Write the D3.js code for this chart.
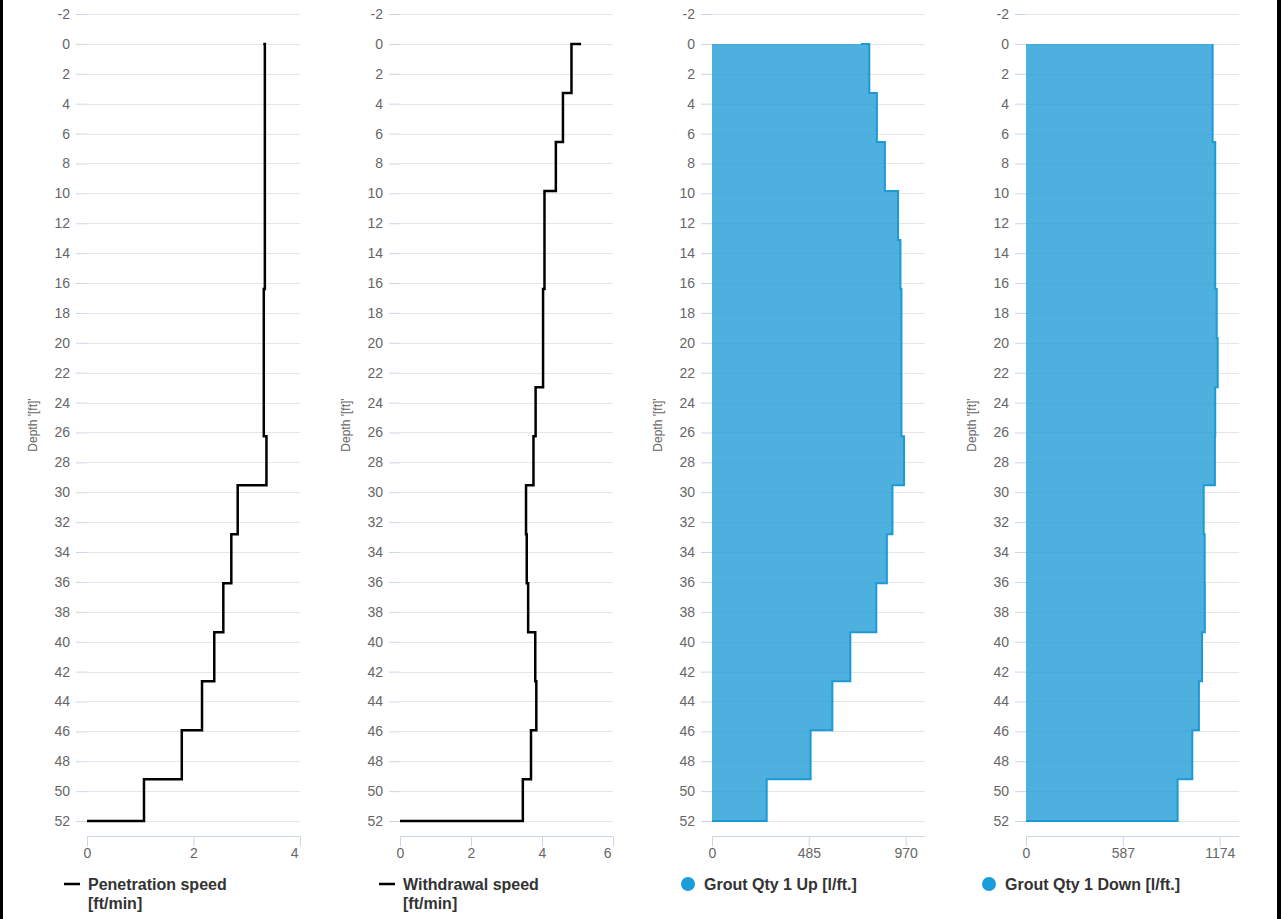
<!DOCTYPE html>
<html>
<head>
<meta charset="utf-8">
<script src="https://cdn.jsdelivr.net/npm/d3@7"></script>
<style>
  html, body { margin: 0; padding: 0; background: #000; }
  #wrap { position: absolute; left: 3px; top: 0; width: 1274px; height: 919px; background: #fff; }
  svg { position: absolute; left: -3px; top: 0; }
  text { font-family: "Liberation Sans", Arial, sans-serif; }
</style>
</head>
<body>
<div id="wrap"></div>
<script>
// ---- data ----
const depths = [0, 0, 3.28, 6.56, 9.84, 13.12, 16.40, 19.69, 22.97, 26.25, 29.53, 32.81, 36.09, 39.37, 42.65, 45.93, 49.21, 52];
const penetrationSpeed = [3.31, 3.34, 3.34, 3.34, 3.34, 3.34, 3.32, 3.32, 3.32, 3.37, 2.83, 2.71, 2.56, 2.39, 2.16, 1.78, 1.07, 0];
const withdrawalSpeed = [5.1, 4.83, 4.59, 4.39, 4.07, 4.07, 4.03, 4.03, 3.82, 3.76, 3.55, 3.57, 3.61, 3.81, 3.84, 3.69, 3.46, 0];
const groutUp = [746, 788, 826, 866, 932, 944, 949, 949, 949, 962, 904, 876, 823, 693, 603, 494, 274, 0];
const groutDown = [1131, 1131, 1131, 1147, 1147, 1147, 1156, 1162, 1147, 1145, 1077, 1083, 1084, 1067, 1048, 1008, 919, 0];

const depthTicks = d3.range(-2, 53, 2);
const depthDomain = [-2, 53];
const depthLabel = "Depth '[ft]'";

const panels = [
  { name: "Penetration speed", name2: "[ft/min]", values: penetrationSpeed, domain: [0, 4], ticks: [0, 2, 4], type: "line" },
  { name: "Withdrawal speed", name2: "[ft/min]", values: withdrawalSpeed, domain: [0, 6], ticks: [0, 2, 4, 6], type: "line" },
  { name: "Grout Qty 1 Up [l/ft.]", values: groutUp, domain: [0, 1067], ticks: [0, 485, 970], type: "area" },
  { name: "Grout Qty 1 Down [l/ft.]", values: groutDown, domain: [0, 1291], ticks: [0, 587, 1174], type: "area" }
];

// ---- layout ----
const W = 1281, H = 919;
const plotLefts = [87, 400, 712, 1026];
const legendLefts = [64, 379, 681, 982];
const plotW = 213;
const plotTop = 14, plotBottom = 836;
const fmt = d => String(d);

const svg = d3.select("#wrap").append("svg").attr("width", W).attr("height", H);

const y = d3.scaleLinear().domain(depthDomain).range([plotTop, plotBottom]);

panels.forEach((p, i) => {
  const L = plotLefts[i];
  const x = d3.scaleLinear().domain(p.domain).range([L, L + plotW]);
  const g = svg.append("g");

  // grid lines
  g.selectAll("line.grid").data(depthTicks).join("line")
    .attr("x1", L).attr("x2", L + plotW)
    .attr("y1", d => Math.round(y(d)) + 0.5).attr("y2", d => Math.round(y(d)) + 0.5)
    .attr("stroke", "#e6e6e6").attr("stroke-width", 1);

  // y axis (ticks + labels)
  const yAxis = d3.axisLeft(y).tickValues(depthTicks).tickSize(11).tickPadding(6).tickFormat(fmt);
  const ya = g.append("g").attr("transform", `translate(${L},0)`).call(yAxis);
  ya.select(".domain").remove();
  ya.selectAll(".tick line").attr("stroke", "#ccd6eb");
  ya.selectAll(".tick text").attr("fill", "#666").attr("font-size", 14)
    .attr("font-family", '"Liberation Sans", Arial, sans-serif');

  // depth label
  g.append("text")
    .attr("transform", `translate(${L - 50},${(plotTop + plotBottom) / 2}) rotate(-90)`)
    .attr("text-anchor", "middle")
    .attr("fill", "#666").attr("font-size", 12)
    .text(depthLabel);

  // x axis
  const xAxis = d3.axisBottom(x).tickValues(p.ticks).tickSize(10).tickPadding(2).tickFormat(fmt);
  const xa = g.append("g").attr("transform", `translate(0,${plotBottom + 0.5})`).call(xAxis);
  xa.select(".domain").attr("stroke", "#ccd6eb").attr("d", `M${L},0H${L + plotW}`);
  xa.selectAll(".tick line").attr("stroke", "#ccd6eb");
  xa.selectAll(".tick text").attr("fill", "#666").attr("font-size", 14)
    .attr("font-family", '"Liberation Sans", Arial, sans-serif');
  // keep the last label inside the plot area
  xa.selectAll(".tick").each(function (d) {
    const t = d3.select(this).select("text");
    const w = t.node().getComputedTextLength();
    const over = x(d) + w / 2 - (L + plotW - 2);
    if (over > 0) t.attr("x", -over);
  });

  const pts = depths.map((d, k) => ({ d: d, v: p.values[k] }));

  if (p.type === "area") {
    const area = d3.area().curve(d3.curveStepBefore)
      .x0(x(0)).x1(d => x(d.v)).y(d => y(d.d));
    g.append("path").datum(pts).attr("d", area)
      .attr("fill", "rgba(28,154,214,0.78)").attr("stroke", "none");
    const line = d3.line().curve(d3.curveStepBefore).x(d => x(d.v)).y(d => y(d.d));
    g.append("path").datum(pts).attr("d", line)
      .attr("fill", "none").attr("stroke", "#1c9ad6").attr("stroke-width", 2);
  } else {
    const line = d3.line().curve(d3.curveStepBefore).x(d => x(d.v)).y(d => y(d.d));
    g.append("path").datum(pts).attr("d", line)
      .attr("fill", "none").attr("stroke", "#000").attr("stroke-width", 2.5);
  }

  // legend
  const LX = legendLefts[i];
  const lg = g.append("g");
  if (p.type === "line") {
    lg.append("line").attr("x1", LX).attr("x2", LX + 16).attr("y1", 884).attr("y2", 884)
      .attr("stroke", "#000").attr("stroke-width", 2.5);
    lg.append("text").attr("x", LX + 24).attr("y", 889.5)
      .attr("font-size", 16).attr("font-weight", "bold").attr("fill", "#333").text(p.name);
    lg.append("text").attr("x", LX + 24).attr("y", 908.5)
      .attr("font-size", 16).attr("font-weight", "bold").attr("fill", "#333").text(p.name2);
  } else {
    lg.append("circle").attr("cx", LX + 7).attr("cy", 884).attr("r", 7).attr("fill", "#1a9ddb");
    lg.append("text").attr("x", LX + 23).attr("y", 889.5)
      .attr("font-size", 16).attr("font-weight", "bold").attr("fill", "#333").text(p.name);
  }
});
</script>
</body>
</html>
